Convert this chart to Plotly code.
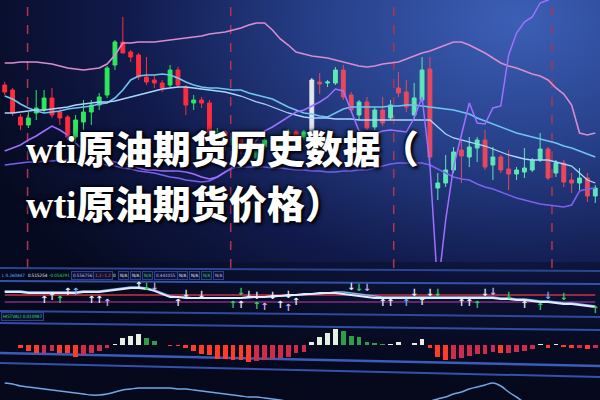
import base64
import plotly.graph_objects as go

# ---------------- data ----------------
day = list(range(76))

open_ = [71.5, 71.0, 68.3, 67.5, 68.7, 69.0, 70.2, 68.8, 68.3, 66.3, 67.8, 68.8, 69.5, 70.5, 73.5, 75.8, 74.8, 74.5, 72.3, 72.0,
         71.7, 71.5, 73.0, 71.3, 69.7, 70.0, 69.7, 66.0, 66.8, 65.5, 66.3, 65.0, 64.2, 65.3, 66.0, 65.2, 66.2, 66.8, 66.3, 66.5,
         71.8, 71.7, 71.7, 73.0, 70.5, 68.5, 69.8, 67.3, 69.0, 68.2, 71.2, 70.8, 68.5, 70.0, 73.1, 61.2, 61.7, 63.0, 65.0, 64.3,
         65.2, 66.0, 63.5, 64.3, 63.1, 62.6, 62.8, 63.0, 64.0, 65.1, 62.7, 63.7, 62.0, 61.7, 62.2, 60.4]
high = [71.8, 71.2, 68.6, 68.8, 71.0, 71.0, 71.2, 69.2, 68.5, 68.5, 70.0, 70.0, 70.7, 73.4, 76.0, 78.3, 75.0, 74.7, 74.3, 72.5,
        72.0, 73.5, 73.3, 71.5, 70.5, 70.3, 70.0, 67.2, 67.0, 66.6, 66.5, 65.4, 65.6, 66.4, 66.3, 66.5, 67.1, 67.0, 67.0, 72.2,
        72.7, 72.0, 73.3, 73.5, 70.8, 70.0, 70.3, 69.3, 70.3, 70.0, 72.8, 72.0, 71.7, 74.3, 74.3, 62.7, 64.5, 65.3, 66.0, 66.3,
        66.3, 67.0, 65.3, 64.5, 65.0, 63.3, 65.2, 64.2, 66.7, 65.3, 64.0, 64.0, 62.7, 63.2, 62.7, 61.5]
low = [70.5, 68.4, 67.0, 67.2, 68.0, 68.7, 68.2, 67.5, 66.0, 65.8, 67.0, 67.5, 69.0, 70.2, 73.0, 74.7, 73.8, 72.0, 71.5, 71.2,
       70.8, 71.2, 71.2, 68.5, 69.0, 69.2, 66.2, 65.6, 65.0, 65.0, 64.6, 63.8, 64.0, 65.0, 64.8, 65.0, 66.0, 66.0, 66.0, 66.3,
       70.6, 71.3, 71.5, 70.0, 68.7, 68.0, 67.0, 67.0, 67.4, 68.0, 70.3, 68.8, 68.0, 69.8, 64.0, 60.0, 61.3, 62.7, 61.7, 63.3,
       63.8, 63.0, 62.0, 62.7, 61.0, 62.0, 62.2, 62.8, 63.8, 62.0, 62.3, 61.3, 60.7, 61.0, 59.8, 59.7]
close = [70.8, 68.7, 67.5, 68.2, 69.2, 70.2, 68.5, 68.2, 66.3, 68.0, 68.8, 69.5, 70.3, 73.2, 75.8, 74.7, 74.3, 72.3, 71.8, 71.7,
         71.2, 73.0, 71.5, 69.5, 70.0, 69.7, 66.5, 66.8, 65.5, 66.3, 65.0, 64.2, 65.3, 66.0, 65.2, 66.2, 66.8, 66.3, 66.8, 72.0,
         71.6, 71.8, 73.0, 70.3, 69.0, 69.8, 67.2, 69.0, 67.7, 69.5, 70.7, 69.3, 70.2, 73.0, 64.3, 61.7, 63.0, 64.8, 64.4, 65.3,
         66.0, 63.3, 64.3, 63.0, 62.6, 63.0, 63.2, 64.0, 65.1, 62.2, 63.7, 61.8, 61.7, 62.2, 60.4, 61.2]

band_upper = [73.7, 73.7, 73.8, 73.8, 73.8, 73.7, 73.6, 73.4, 73.2, 73.1, 73.0, 73.1, 73.2, 73.6, 74.5, 75.7, 75.7, 75.8, 75.8, 75.8,
              75.9, 76.0, 76.1, 76.2, 76.3, 76.4, 76.6, 76.7, 76.8, 77.0, 77.2, 77.5, 77.7, 77.7, 77.0, 76.1, 75.5, 74.8, 74.6, 74.4,
              74.3, 74.2, 74.0, 73.8, 73.6, 73.4, 73.3, 73.4, 73.6, 73.7, 73.8, 74.1, 74.4, 74.7, 74.9, 75.2, 75.5, 75.8, 75.8, 75.5,
              75.1, 74.7, 74.2, 73.7, 73.4, 73.2, 72.9, 72.6, 72.4, 72.0, 71.2, 70.6, 69.5, 66.7, 66.5, 66.7]
band_mid = [70.4, 70.1, 69.6, 69.2, 68.9, 68.7, 68.8, 68.9, 69.1, 69.2, 69.3, 69.4, 69.6, 69.7, 70.2, 71.0, 72.0, 72.4, 72.5, 72.5,
            72.6, 72.5, 72.2, 71.8, 71.5, 71.3, 71.2, 71.2, 71.1, 71.0, 71.0, 70.7, 70.5, 70.3, 70.1, 69.7, 69.3, 69.0, 68.7, 68.6,
            68.4, 68.3, 68.7, 69.1, 69.3, 69.3, 69.3, 69.3, 69.3, 69.4, 69.4, 69.5, 69.5, 69.4, 69.3, 69.2, 69.1, 69.0, 68.8, 68.6,
            68.2, 67.9, 67.6, 67.3, 67.0, 66.7, 66.5, 66.3, 66.1, 65.9, 65.7, 65.4, 65.2, 64.9, 64.6, 64.3]
ma_light = [68.7, 68.7, 68.8, 68.9, 69.0, 69.0, 69.1, 69.2, 69.3, 69.5, 69.6, 69.7, 69.8, 69.8, 69.9, 70.1, 70.3, 70.5, 70.7, 70.9,
            71.1, 71.2, 71.3, 71.3, 71.2, 71.1, 71.0, 70.9, 70.8, 70.6, 70.4, 70.1, 69.8, 69.6, 69.3, 69.0, 68.7, 68.5, 68.3, 68.2,
            68.2, 68.2, 68.1, 68.1, 68.1, 68.0, 68.0, 68.0, 68.0, 68.0, 68.0, 68.0, 68.0, 68.0, 68.0, 67.3, 66.6, 66.2, 66.0, 65.8,
            65.6, 65.4, 65.1, 64.8, 64.5, 64.3, 64.1, 64.0, 64.0, 64.0, 63.8, 63.6, 63.4, 62.7, 62.0, 61.7]
band_lower = [63.5, 63.6, 63.7, 63.8, 63.8, 63.9, 63.9, 64.0, 64.0, 64.0, 64.0, 63.9, 63.7, 63.5, 63.4, 63.2, 63.1, 62.9, 62.8, 62.7,
              62.5, 62.3, 62.2, 62.0, 61.9, 61.8, 61.9, 62.3, 62.8, 63.2, 63.3, 63.3, 63.3, 63.3, 63.2, 63.2, 63.1, 63.0, 63.0, 62.9,
              62.9, 62.8, 62.8, 62.9, 62.9, 63.0, 63.0, 63.2, 63.4, 63.6, 63.7, 63.7, 63.7, 63.7, 63.5, 63.1, 62.7, 62.3, 62.1, 62.0,
              61.6, 61.3, 61.1, 60.8, 60.5, 60.2, 60.0, 59.8, 59.6, 59.5, 59.4, 59.3, 59.5, 60.9, 61.1, 61.2]
osc_line = [64.9, 65.2, 65.5, 66.0, 66.4, 66.9, 67.4, 67.0, 66.5, 65.7, 65.0, 64.6, 64.2, 64.0, 63.8, 63.7, 63.5, 63.2, 63.0, 63.0,
            62.9, 62.9, 62.9, 62.8, 62.6, 62.3, 62.1, 62.3, 62.8, 63.3, 63.9, 65.0, 66.0, 66.9, 67.3, 67.8, 68.3, 68.8, 69.0, 69.4,
            69.8, 70.3, 71.1, 70.9, 68.8, 66.9, 66.7, 66.6, 66.9, 67.0, 66.9, 66.8, 68.2, 70.3, 63.5, 51.0, 58.0, 63.3, 66.5, 69.7,
            67.7, 67.6, 69.2, 69.4, 74.5, 76.7, 77.8, 78.3, 79.7, 80.0, 80.5, 81.0, 81.5, 82.0, 82.5, 83.0]

event_days = [2.9, 28.7, 49.4, 69.5]

sig_white = [20, 20, 20, 19, 19, 19, 19, 19, 19, 19, 20, 20, 20, 21, 22, 23, 24, 24, 23, 21,
             18, 15, 15, 14, 14, 14, 14, 14, 14, 14, 14, 15, 15, 15, 16, 16, 17, 17, 18, 18,
             19, 19, 19, 18, 17, 16, 15, 14, 14, 14, 14, 14, 14, 14, 14, 14, 14, 14, 14, 14,
             14, 14, 14, 13, 13, 12, 12, 11, 10, 10, 9, 8, 8, 7, 6, 5]
sig_blue = [21, 21, 21, 20, 20, 20, 20, 20, 20, 20, 21, 21, 21, 22, 23, 24, 25, 25, 24, 22,
            19, 16, 15, 15, 14, 14, 14, 14, 14, 14, 14, 14, 15, 15, 15, 16, 16, 17, 17, 18,
            18, 19, 20, 20, 19, 18, 17, 16, 15, 15, 15, 15, 15, 15, 15, 15, 15, 15, 15, 15,
            15, 15, 15, 14, 14, 13, 13, 12, 11, 11, 10, 9, 9, 8, 7, 6]
level_red = 17
level_magenta = 10

arrow_day = [5, 6, 7, 8, 9, 11, 12, 13, 17, 18, 19, 22, 23, 25, 29, 30, 30, 31, 32, 32, 33, 34, 35, 36, 36, 37,
             44, 45, 46, 48, 49, 51, 52, 53, 54, 55, 58, 59, 60, 61, 62, 64, 66, 68, 69, 71, 75]
arrow_val = [12, 15, 12, 20, 20, 12, 12, 9, 26, 25, 25, 9, 18, 17, 7, 7, 20, 17, 16, 6, 5, 16, 7, 17, 4, 10,
             25, 24, 24, 9, 9, 9, 19, 10, 19, 19, 9, 9, 7, 19, 20, 16, 7, 5, 16, 15, 2]
arrow_dir = ['up', 'up', 'up', 'up', 'up', 'up', 'up', 'up', 'up', 'dn', 'dn', 'up', 'dn', 'dn', 'up', 'up', 'dn', 'dn',
             'dn', 'up', 'up', 'dn', 'up', 'dn', 'up', 'up',
             'dn', 'dn', 'dn', 'up', 'up', 'up', 'dn', 'up', 'dn', 'dn', 'up', 'up', 'up', 'dn', 'dn', 'dn', 'up', 'up',
             'dn', 'dn', 'up']
arrow_kind = ['w', 'w', 'g', 'w', 'b', 'w', 'w', 'l', 'w', 'g', 'l', 'w', 'w', 'w', 'g', 'w', 'g', 'w', 'w', 'g', 'l',
              'w', 'w', 'w', 'l', 'w',
              'w', 'g', 'l', 'w', 'w', 'b', 'w', 'w', 'w', 'g', 'w', 'w', 'g', 'w', 'l', 'g', 'w', 'g', 'b', 'g', 'g']

macd_hist = [0.5, 0.5, -3, -6.4, -8.3, -8, -6, -8, -8, -11.5, -10.3, -8, -6, -3, 1, 7, 9.5, 10.8, 7, 4,
             0, -1, -1, -3.2, -6, -9, -9.7, -13.5, -14.3, -15, -15, -16.8, -15.7, -14.5, -14.3, -13, -11.9, -7.7, -6.5, 3,
             8.3, 12.5, 15.7, 14, 9.4, 8, 3.2, 2.4, 0.9, 1.1, 3.3, 0.3, 1.7, 5.6, -3.2, -11.6, -14.7, -13.9, -12.7, -10.8,
             -8.9, -8.6, -7.4, -8.2, -8, -6.7, -5.9, -4, 0.8, -2.5, 0.8, -2.4, -3.1, -2.6, -4, -3]

lower_curve = [17, 16, 14, 13, 12, 11, 10, 9, 8, 7, 6, 5, 5, 6, 8, 10, 11, 12, 12, 12,
               12, 12, 11, 11, 10, 9, 8, 7, 6, 5, 4, 3, 3, 2, 1, 0, -1, -1, -1, -1,
               -1, -1, -1, -1, -1, -1, -1, -1, -1, -1, -1, -1, -1, -1, -1, 1, 3, 6, 8, 11,
               13, 15, 17, 14, 8, 3, -2, -2, -2, -2, -2, -2, -2, -2, -2, -2]

status_labels = ["L 0.260847", "0.515254", "-0.054291", "0.556756", "1.2:-1.2", "0", "N/A", "N/A", "N/A",
                 "0.441055", "N/A", "N/A", "N/A", "N/A"]
status_kind = ['b', 'w', 'g', 'l', 'r', 'w', 'w', 'w', 'g', 'l', 'w', 'w', 'g', 'l']
macd_label = "HISTVAL) 0.010987"

title_lines = ["wti原油期货历史数据（", "wti原油期货价格）"]

# ---------------- styling helpers ----------------
W, H = 600, 400


def py(p):
    return 1 - p / H


def px(p):
    return p / W


kind_color = {'w': '#e9eefb', 'g': '#35d366', 'l': '#c9b3f5', 'b': '#6fb0ff', 'r': '#ff5a5a'}

svg = (
    '<svg xmlns="http://www.w3.org/2000/svg" width="600" height="400">'
    '<defs><radialGradient id="g" cx="0.86" cy="0.05" r="0.95">'
    '<stop offset="0" stop-color="#3c5fb6"/><stop offset="0.35" stop-color="#263f88"/>'
    '<stop offset="0.68" stop-color="#111a4c"/><stop offset="1" stop-color="#060a20"/>'
    '</radialGradient>'
    '<linearGradient id="d" x1="0" y1="0" x2="0" y2="1">'
    '<stop offset="0" stop-color="#050818" stop-opacity="0.35"/>'
    '<stop offset="1" stop-color="#050818" stop-opacity="0.75"/></linearGradient></defs>'
    '<rect width="600" height="400" fill="url(#g)"/>'
    '<rect y="262" width="600" height="138" fill="url(#d)"/>'
    '</svg>'
)
bg_uri = "data:image/svg+xml;base64," + base64.b64encode(svg.encode()).decode()

fig = go.Figure()

# candles: left segment, highlighted bar, right segment
segments = [
    (0, 39, '#2ee85c', '#ff2d3c'),
    (39, 40, '#e4e6ee', '#e4e6ee'),
    (40, 76, '#5fe6b6', '#e8485f'),
]
for a, b, inc, dec in segments:
    fig.add_trace(go.Candlestick(
        x=day[a:b], open=open_[a:b], high=high[a:b], low=low[a:b], close=close[a:b],
        increasing=dict(line=dict(color=inc, width=1), fillcolor=inc),
        decreasing=dict(line=dict(color=dec, width=1), fillcolor=dec),
        whiskerwidth=0, xaxis='x', yaxis='y', hoverinfo='skip'))

for vals, col, w in [(band_upper, '#d88dcf', 1.6), (band_mid, '#6fc5f2', 1.6), (ma_light, '#a9d6ff', 1.3),
                     (band_lower, '#7d60f0', 1.6), (osc_line, '#a070ff', 1.5)]:
    fig.add_trace(go.Scatter(x=day, y=vals, mode='lines', line=dict(color=col, width=w),
                             xaxis='x', yaxis='y', hoverinfo='skip'))

# middle panel
fig.add_trace(go.Scatter(x=[day[0], day[-1]], y=[level_red, level_red], mode='lines',
                         line=dict(color='#c8344a', width=1.5), xaxis='x', yaxis='y2'))
fig.add_trace(go.Scatter(x=[day[0], day[-1]], y=[level_magenta, level_magenta], mode='lines',
                         line=dict(color='#c03ca8', width=1.2), xaxis='x', yaxis='y2'))
fig.add_trace(go.Scatter(x=day, y=sig_blue, mode='lines', line=dict(color='#7fb3ea', width=1.4),
                         xaxis='x', yaxis='y2'))
fig.add_trace(go.Scatter(x=day, y=sig_white, mode='lines', line=dict(color='#e2ecff', width=1.8),
                         xaxis='x', yaxis='y2'))
fig.add_trace(go.Scatter(
    x=arrow_day, y=arrow_val, mode='text',
    text=['↑' if d == 'up' else '↓' for d in arrow_dir],
    textfont=dict(family='DejaVu Sans', size=10, color=[kind_color[k] for k in arrow_kind], weight='bold'),
    textposition='middle center', xaxis='x', yaxis='y2', cliponaxis=False, hoverinfo='skip'))

# MACD histogram
bar_colors = []
for i, v in enumerate(macd_hist):
    prev = macd_hist[i - 1] if i > 0 else v
    if v >= 0:
        bar_colors.append('#e6f0e2' if v >= prev else '#2f9e4a')
    else:
        bar_colors.append('#ff3b2c' if v <= prev else '#d02a4c')
fig.add_trace(go.Bar(x=day, y=macd_hist, marker=dict(color=bar_colors, line=dict(width=0)),
                     width=0.6, xaxis='x', yaxis='y3', hoverinfo='skip'))

fig.add_trace(go.Scatter(x=day, y=lower_curve, mode='lines', line=dict(color='#6fa6e6', width=1.5, shape='spline'),
                         xaxis='x', yaxis='y4', hoverinfo='skip'))

# ---------------- layout ----------------
shapes = []
for d in event_days:
    shapes.append(dict(type='line', xref='x', yref='paper', x0=d, x1=d, y0=py(268), y1=1,
                       line=dict(color='#b3344c', width=1.5, dash='dash'), layer='below'))
for y0, y1, col, wd in [(268, 271, '#2a4592', 2), (281, 284, '#3452a6', 2), (311, 317, '#2d4a9c', 2),
                        (323, 330, '#2f4ea4', 2), (353, 366, '#3a5cbc', 2.5), (363, 377, '#3252ae', 2)]:
    shapes.append(dict(type='line', xref='paper', yref='paper', x0=0, x1=1, y0=py(y0), y1=py(y1),
                       line=dict(color=col, width=wd), layer='below'))

annotations = []
label_left = [1, 27, 48, 71, 93, 112, 118, 130, 142, 154, 177, 189, 201, 213]
for i, (t, k) in enumerate(zip(status_labels, status_kind)):
    boxed = i >= 3 and t != "0"
    annotations.append(dict(
        x=px(label_left[i]), y=py(275), xref='paper', yref='paper', text=t, showarrow=False,
        xanchor='left', yanchor='middle',
        font=dict(family='DejaVu Sans Condensed, DejaVu Sans', size=4.5, color=kind_color[k]),
        bgcolor='#0b1236' if boxed else None, bordercolor='#30408a' if boxed else None,
        borderwidth=1 if boxed else 0, borderpad=1))
annotations.append(dict(
    x=px(1), y=py(316), xref='paper', yref='paper', text=macd_label, showarrow=False,
    xanchor='left', yanchor='middle', font=dict(family='DejaVu Sans Condensed, DejaVu Sans', size=4.5, color='#3cdc52'),
    bgcolor='#0b1236', bordercolor='#30408a', borderwidth=1, borderpad=1))

for t, yc in zip(title_lines, [150, 205]):
    annotations.append(dict(
        x=px(24), y=py(yc), xref='paper', yref='paper', text=t, showarrow=False,
        xanchor='left', yanchor='middle',
        font=dict(family='Liberation Serif, Noto Sans CJK SC', size=38, color='#ffffff', weight=900,
                  shadow='2px 2px 3px rgba(0,0,0,0.95), -1px -1px 2px rgba(0,0,0,0.7), 0px 0px 6px rgba(0,0,20,0.8)')))

hidden = dict(showgrid=False, zeroline=False, showticklabels=False, showline=False, ticks='', fixedrange=True)

fig.update_layout(
    width=W, height=H, margin=dict(l=0, r=0, t=0, b=0),
    paper_bgcolor='#070b22', plot_bgcolor='rgba(0,0,0,0)',
    showlegend=False, bargap=0,
    images=[dict(source=bg_uri, xref='paper', yref='paper', x=0, y=1, sizex=1, sizey=1,
                 sizing='stretch', xanchor='left', yanchor='top', layer='below')],
    xaxis=dict(range=[-0.6, 75.6], domain=[0, 1], rangeslider=dict(visible=False), **hidden),
    yaxis=dict(domain=[py(262), 1], range=[53.8, 80], **hidden),
    yaxis2=dict(domain=[py(312), py(282)], range=[0, 30], anchor='x', **hidden),
    yaxis3=dict(domain=[py(370), py(322)], range=[-25, 23], anchor='x', **hidden),
    yaxis4=dict(domain=[0, py(378)], range=[0, 22], anchor='x', **hidden),
    shapes=shapes, annotations=annotations,
)

fig.write_html("out.html", config={'displayModeBar': False, 'staticPlot': True},
               post_script="document.body.style.margin='0px';document.body.style.overflow='hidden';")
